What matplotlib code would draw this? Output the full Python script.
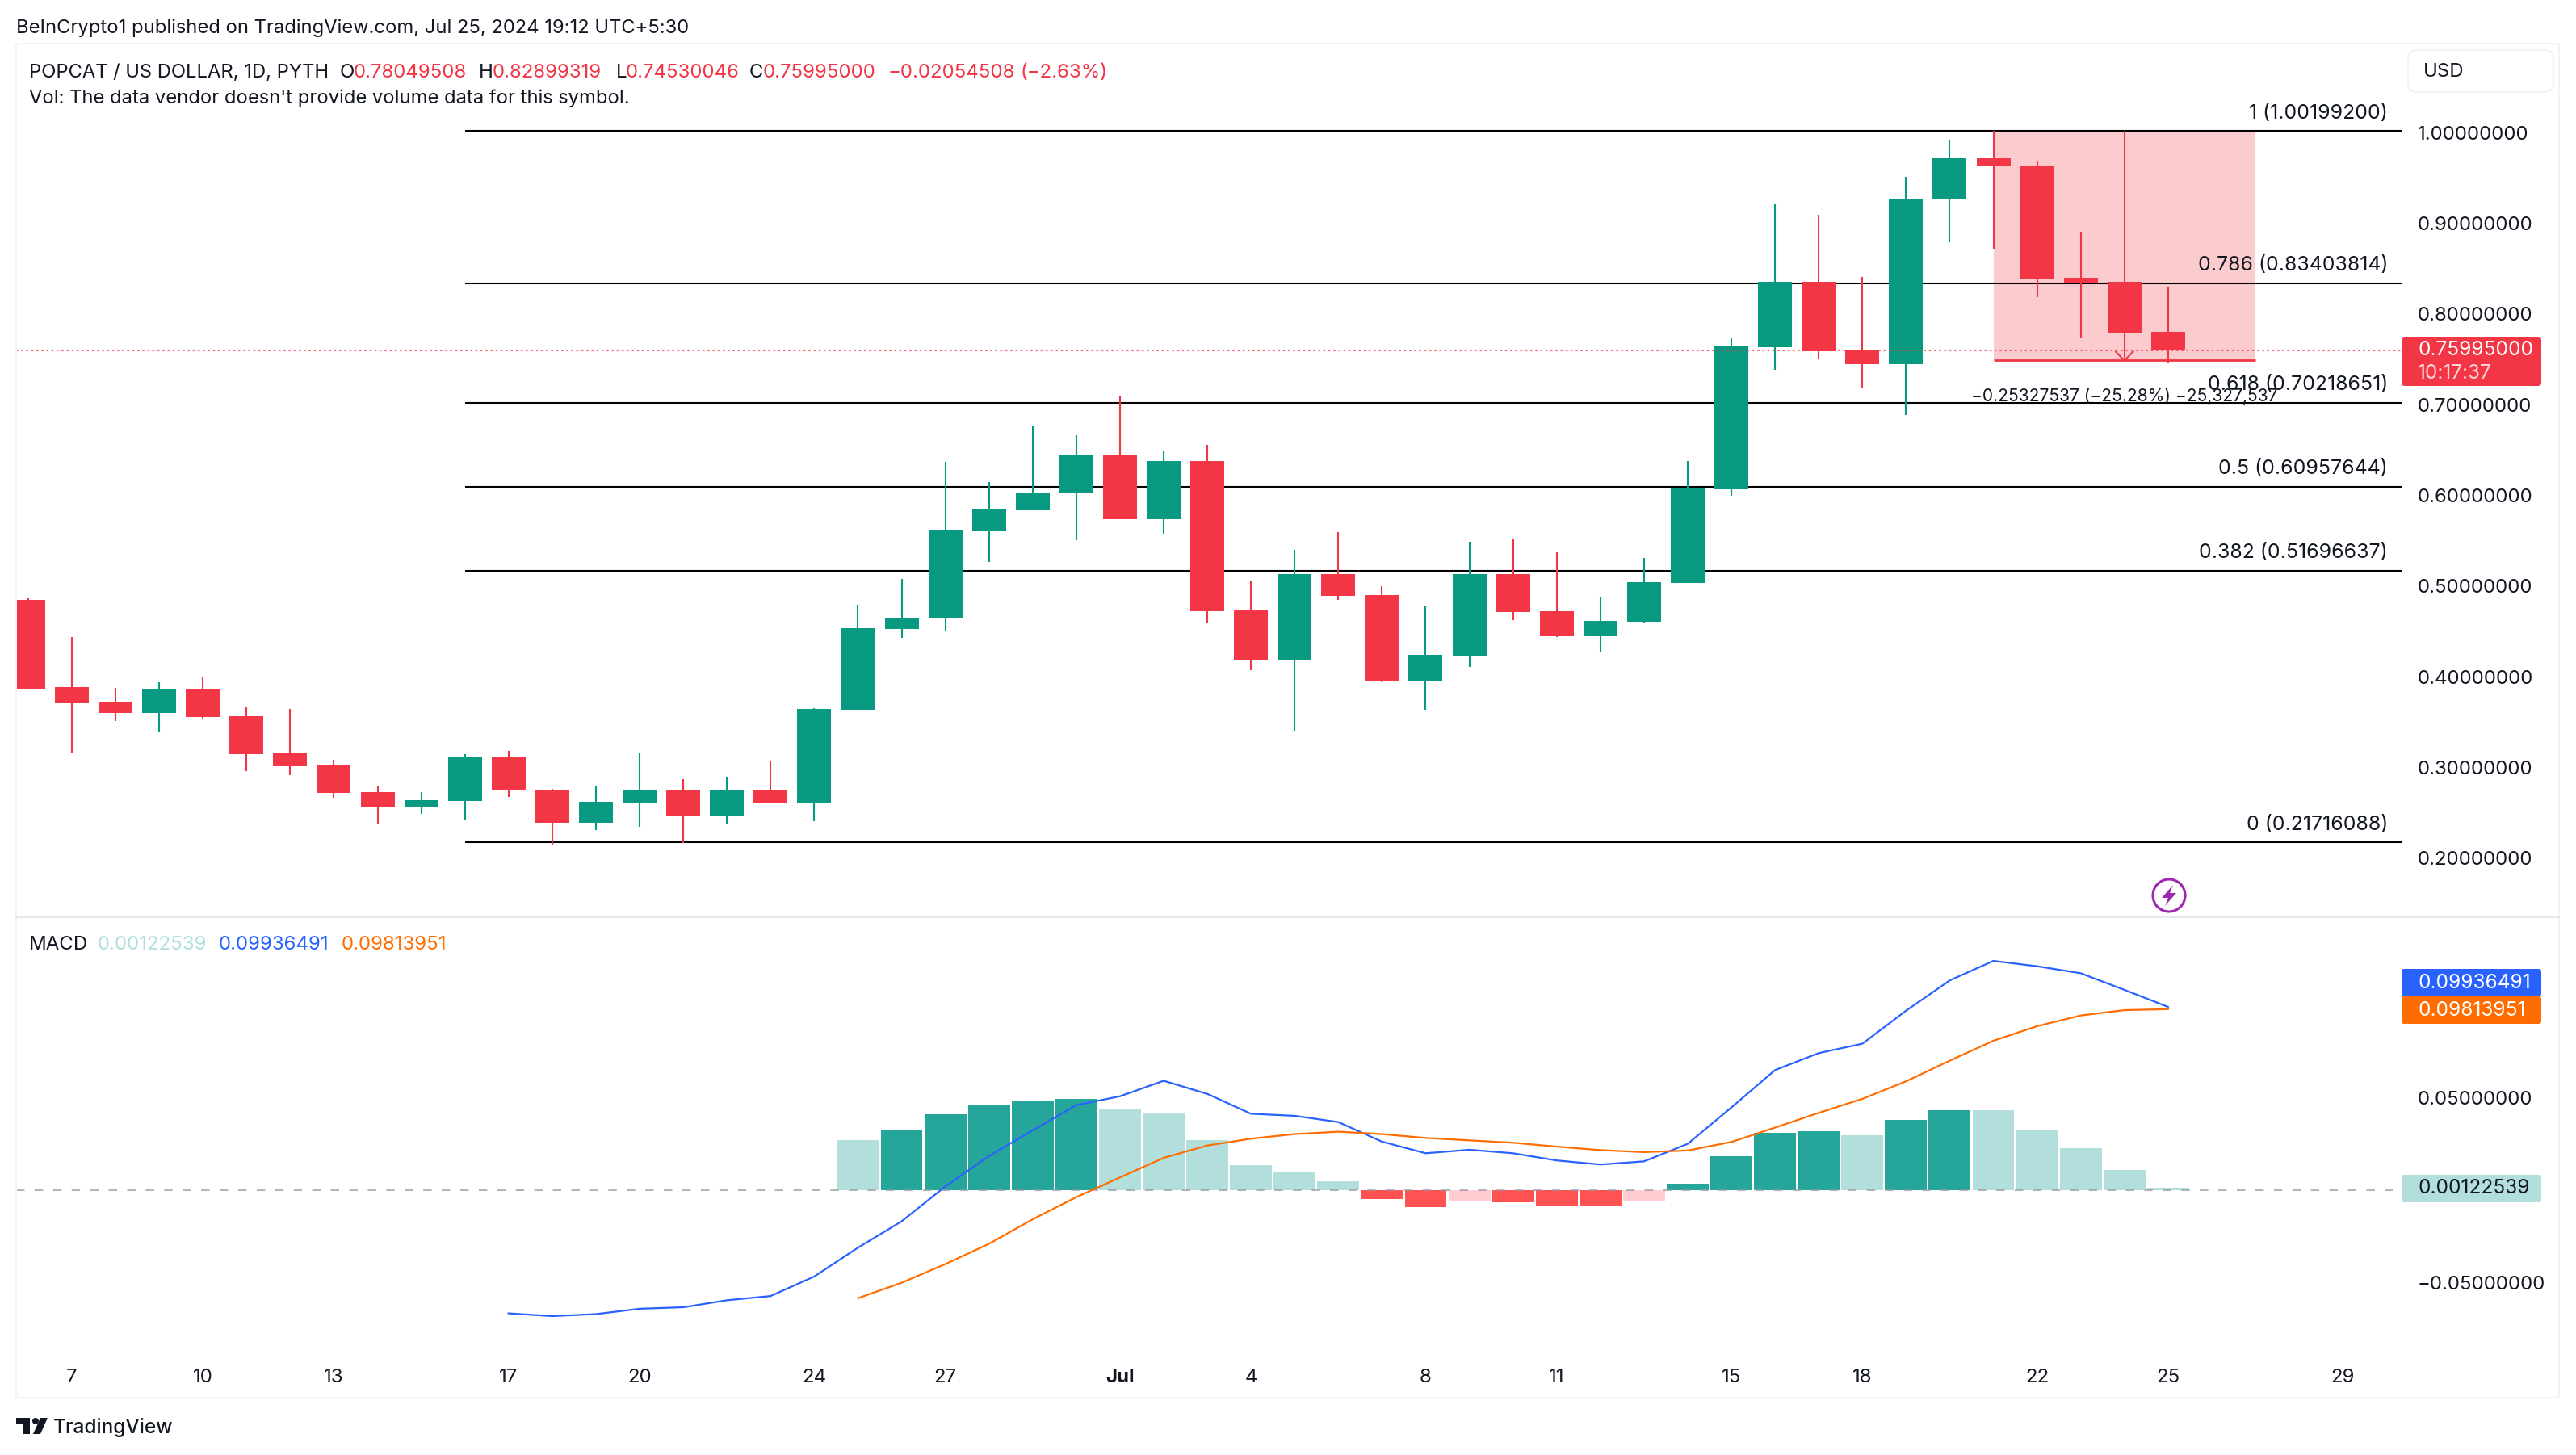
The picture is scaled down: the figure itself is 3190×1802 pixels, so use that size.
import matplotlib
matplotlib.use('Agg')
import matplotlib.pyplot as plt
from matplotlib.patches import FancyBboxPatch, Rectangle, Circle, Polygon
from matplotlib.transforms import IdentityTransform

plt.rcParams['font.family'] = ['Inter', 'DejaVu Sans']

W, H = 3190, 1802
DARK = '#131722'
UP = '#089981'
DOWN = '#f23645'
BLUE = '#2962ff'
ORANGE = '#ff6d00'
FS = 17.3

# daily candles, index 0 = Jun 6
opens = [.4846, .3884, .3715, .3599, .3867, .3564, .3154, .3021, .2727, .2558,
         .2629, .3110, .2753, .2388, .2611, .2745, .2469, .2745, .2611, .3635,
         .4525, .4641, .5603, .5834, .6021, .6440, .5736, .6378, .4730, .4187,
         .5131, .4899, .3947, .4232, .5131, .4721, .4445, .4606, .5033, .6066,
         .7633, .8354, .7597, .7446, .9263, .9714, .9634, .8396, .8352, .78049]
closes = [.3867, .3706, .3599, .3867, .3555, .3145, .3012, .2718, .2558, .2638,
          .3110, .2745, .2388, .2620, .2745, .2469, .2745, .2611, .3644, .4534,
          .4650, .5612, .5843, .6030, .6440, .5736, .6378, .4721, .4187, .5131,
          .4890, .3947, .4240, .5131, .4712, .4445, .4614, .5042, .6075, .7642,
          .8354, .7589, .7446, .9269, .9714, .9625, .8387, .8343, .7791, .75995]
highs = [.4873, .4436, .3875, .3938, .3991, .3662, .3644, .3083, .2789, .2727,
         .3145, .3181, .2762, .2789, .3163, .2869, .2896, .3074, .3653, .4792,
         .5077, .6369, .6146, .6760, .6662, .7090, .6484, .6556, .5051, .5398,
         .5594, .4997, .4784, .5487, .5514, .5371, .4882, .5309, .6378, .7731,
         .9209, .9093, .8408, .9509, .9919, 1.0020, .9679, .8904, .8352, .82899]
lows = [.3867, .3166, .3510, .3395, .3537, .2958, .2914, .2664, .2380, .2486,
        .2424, .2673, .2148, .2308, .2344, .2166, .2380, .2602, .2406, .3635,
        .4427, .4508, .5264, .5834, .5505, .5736, .5576, .4588, .4071, .3403,
        .4846, .3938, .3635, .4107, .4623, .4436, .4276, .4597, .5033, .5995,
        .7384, .7508, .7179, .6882, .8788, .8708, .8183, .7728, .7791, .74530]

fib_levels = [1.00199200, 0.83403814, 0.70218651, 0.60957644, 0.51696637, 0.21716088]
fib_names = ['1', '0.786', '0.618', '0.5', '0.382', '0']
fib_start = 10

measure_start, measure_end, measure_arrow = 45, 51, 48
measure_top, measure_bottom = 1.00199200, 0.74871663

last_close = 0.75995000
price_ticks = [.2, .3, .4, .5, .6, .7, .8, .9, 1.0]
macd_ticks = [-.05, .05]

# MACD line starts at index 11, signal and histogram at index 19
macd_start, signal_start = 11, 19
macd_line = [-.0668, -.0683, -.0672, -.0643, -.0635, -.0597, -.0574, -.0468, -.0312, -.0169,
             .0020, .0185, .0324, .0461, .0509, .0593, .0522, .0414, .0403, .0369,
             .0263, .0200, .0219, .0200, .0161, .0139, .0156, .0251, .0448, .0651,
             .0743, .0794, .0973, .1137, .1243, .1214, .1176, .1086, .09936491]
signal_line = [-.0586, -.0502, -.0401, -.0291, -.0158, -.0038, .0069, .0175, .0242, .0279,
               .0304, .0317, .0304, .0283, .0270, .0257, .0236, .0217, .0206, .0215,
               .0261, .0339, .0419, .0495, .0590, .0702, .0810, .0889, .0947, .0976, .09813951]
histogram = [.0271, .0328, .0412, .0460, .0482, .0495, .0438, .0416, .0271, .0136,
             .0096, .0048, -.0048, -.0092, -.0057, -.0066, -.0083, -.0083, -.0057, .0035,
             .0184, .0311, .0320, .0298, .0381, .0433, .0433, .0324, .0228, .0109, .00122539]

date_ticks = [1, 4, 7, 11, 14, 18, 21, 25, 28, 32, 35, 39, 42, 46, 49, 53]
date_labels = ['7', '10', '13', '17', '20', '24', '27', 'Jul', '4', '8', '11', '15', '18', '22', '25', '29']

# px layout of the panes
LEFT, RIGHT, TOP, SPLIT, BOTTOM = 20, 2974, 55, 1135, 1683
XLIM = (-0.276, 54.347)
PRICE_LIM = (0.1356, 1.0973)
MACD_LIM = (-0.0915, 0.1484)


def pane(top, bottom):
    a = fig.add_axes([LEFT / W, 1 - bottom / H, (RIGHT - LEFT) / W, (bottom - top) / H])
    for s in a.spines.values():
        s.set_visible(False)
    a.set_xlim(*XLIM)
    a.yaxis.tick_right()
    a.tick_params(axis='y', length=0, pad=14.4, labelsize=FS, labelcolor=DARK)
    a.tick_params(axis='x', length=0, labelsize=FS, labelcolor=DARK)
    a.patch.set_alpha(0)
    return a


def label(x, y, s, color=DARK, ha='left', size=FS, **kw):
    fig.text(x / W, 1 - (y + 2) / H, s, color=color, ha=ha, va='center', fontsize=size, zorder=7, **kw)


def box(x0, y0, x1, y1, face, edge='none', r=0, lw=0, z=5):
    p = FancyBboxPatch((x0, H - y1), x1 - x0, y1 - y0, boxstyle='round,pad=0,rounding_size=%s' % r,
                       fc=face, ec=edge, lw=lw, transform=IdentityTransform(), zorder=z)
    fig.add_artist(p)


def poly(points, color):
    fig.add_artist(Polygon([(x, H - y) for x, y in points], closed=True, fc=color, ec='none',
                           transform=IdentityTransform(), zorder=6))


fig = plt.figure(figsize=(W / 100, H / 100), dpi=100, facecolor='white')

# pane borders
for x0, y0, x1, y1 in [(19, 53, 3170, 55), (19, 53, 21, 1732), (3168, 53, 3170, 1732),
                       (19, 1730, 3170, 1732)]:
    box(x0, y0, x1, y1, '#f0f3fa', z=1)
box(19, 1134, 3170, 1137, '#e6e8ee', z=1)

ax = pane(TOP, SPLIT)
ax.set_ylim(*PRICE_LIM)
ax.set_xticks([])
ax.set_yticks(price_ticks)
ax.set_yticklabels(['%.8f' % t for t in price_ticks])

# fib retracement
ax.hlines(fib_levels, fib_start, XLIM[1], color='black', lw=1.5, zorder=2)
for name, level in zip(fib_names, fib_levels):
    ax.annotate('%s (%.8f)' % (name, level), xy=(2957, level), xycoords=('figure pixels', 'data'),
                xytext=(0, 22), textcoords='offset pixels', ha='right', va='center',
                fontsize=17.9, color=DARK, zorder=7)

# measure tool
ax.add_patch(Rectangle((measure_start, measure_bottom), measure_end - measure_start,
                       measure_top - measure_bottom, fc=DOWN, alpha=0.26, ec='none', zorder=1))

# candles
for i in range(len(opens)):
    c = UP if closes[i] >= opens[i] else DOWN
    ax.vlines(i, lows[i], highs[i], color=c, lw=1.5, zorder=3)
    ax.bar(i, abs(closes[i] - opens[i]), bottom=min(opens[i], closes[i]), width=0.777, color=c, zorder=4)

ax.hlines(measure_bottom, measure_start, measure_end, color=DOWN, lw=2, zorder=5)
ax.vlines(measure_arrow, measure_bottom, measure_top, color=DOWN, lw=1.5, zorder=5)
ax.plot([measure_arrow - .2, measure_arrow, measure_arrow + .2],
        [measure_bottom + .0098, measure_bottom, measure_bottom + .0098], color=DOWN, lw=1.5, zorder=5)
ax.text(measure_arrow, measure_bottom - .0395, '\u22120.25327537 (\u221225.28%) \u221225,327,537',
        ha='center', va='center', fontsize=15.1, color=DARK, zorder=7)

# last price line
ax.axhline(last_close, color=DOWN, lw=1.5, ls=(0, (1.2, 1.8)), alpha=0.75, zorder=6)

# MACD pane
ax2 = pane(SPLIT, BOTTOM)
ax2.set_ylim(*MACD_LIM)
ax2.set_yticks(macd_ticks)
ax2.set_yticklabels(['\u22120.05000000', '0.05000000'])
ax2.set_xticks(date_ticks)
ax2.set_xticklabels(date_labels)
ax2.tick_params(axis='x', pad=9)
for t, s in zip(ax2.get_xticklabels(), date_labels):
    if s == 'Jul':
        t.set_fontweight('bold')

for k, v in enumerate(histogram):
    prev = histogram[k - 1] if k else v
    if v >= 0:
        c = '#26a69a' if v > prev else '#b2dfdb'
    else:
        c = '#ffcdd2' if v > prev else '#ff5252'
    ax2.bar(signal_start + k, v, width=0.96, color=c, zorder=2)

ax2.axhline(0, color='#9598a1', alpha=0.7, lw=1.5, ls=(0, (5, 6)), zorder=3)
ax2.plot(range(macd_start, macd_start + len(macd_line)), macd_line, color=BLUE, lw=1.6, zorder=4)
ax2.plot(range(signal_start, signal_start + len(signal_line)), signal_line, color=ORANGE, lw=1.6, zorder=4)

# header and legend
label(20, 33, 'BeInCrypto1 published on TradingView.com, Jul 25, 2024 19:12 UTC+5:30', size=17.1)
label(36, 88, 'POPCAT / US DOLLAR, 1D, PYTH', size=17.1)
for x, s in [(421, 'O'), (593, 'H'), (763, 'L'), (928, 'C')]:
    label(x, 88, s)
for x, s in [(438, '0.78049508'), (610, '0.82899319'), (775, '0.74530046'), (945, '0.75995000'),
             (1099, '\u22120.02054508'), (1263, '(\u22122.63%)')]:
    label(x, 88, s, color=DOWN)
label(36, 120, "Vol: The data vendor doesn't provide volume data for this symbol.", size=17.1)
label(36, 1168, 'MACD')
label(121, 1168, '0.00122539', color='#b2dfdb')
label(271, 1168, '0.09936491', color=BLUE)
label(423, 1168, '0.09813951', color=ORANGE)

# USD button
box(2982, 62, 3162, 114, 'white', edge='#f0f3fa', r=10, lw=1.5)
label(3001, 87, 'USD')

# value boxes on the scales
box(2974, 417, 3147, 478, DOWN, r=4)
label(2994, 431, '0.75995000', color='white', size=17.6)
label(2994, 460, '10:17:37', color='#fbd5d8', size=17.6)
box(2974, 1200, 3147, 1234, BLUE, r=3)
label(2994, 1215, '0.09936491', color='white', size=17.6)
box(2974, 1234, 3147, 1268, ORANGE, r=3)
label(2994, 1249, '0.09813951', color='white', size=17.6)
box(2974, 1455, 3147, 1489, '#b2dfdb', r=3)
label(2994, 1470, '0.00122539', size=17.6)

# lightning badge
fig.add_artist(Circle((2686, H - 1109), 20, fc='white', ec='#9c27b0', lw=2.2,
                      transform=IdentityTransform(), zorder=6))
poly([(2691, 1096), (2677, 1112), (2685, 1112), (2681, 1122), (2695, 1106), (2687, 1106)], '#9c27b0')

# TradingView logo
poly([(20, 1756), (37, 1756), (37, 1776), (29, 1776), (29, 1764), (20, 1764)], DARK)
fig.add_artist(Circle((44, H - 1760), 4, fc=DARK, ec='none', transform=IdentityTransform(), zorder=6))
poly([(50, 1756), (59, 1756), (50, 1776), (41, 1776)], DARK)
label(66, 1766, 'TradingView', size=17.6, fontweight='medium')

fig.savefig('out.png', dpi=100, facecolor='white')
